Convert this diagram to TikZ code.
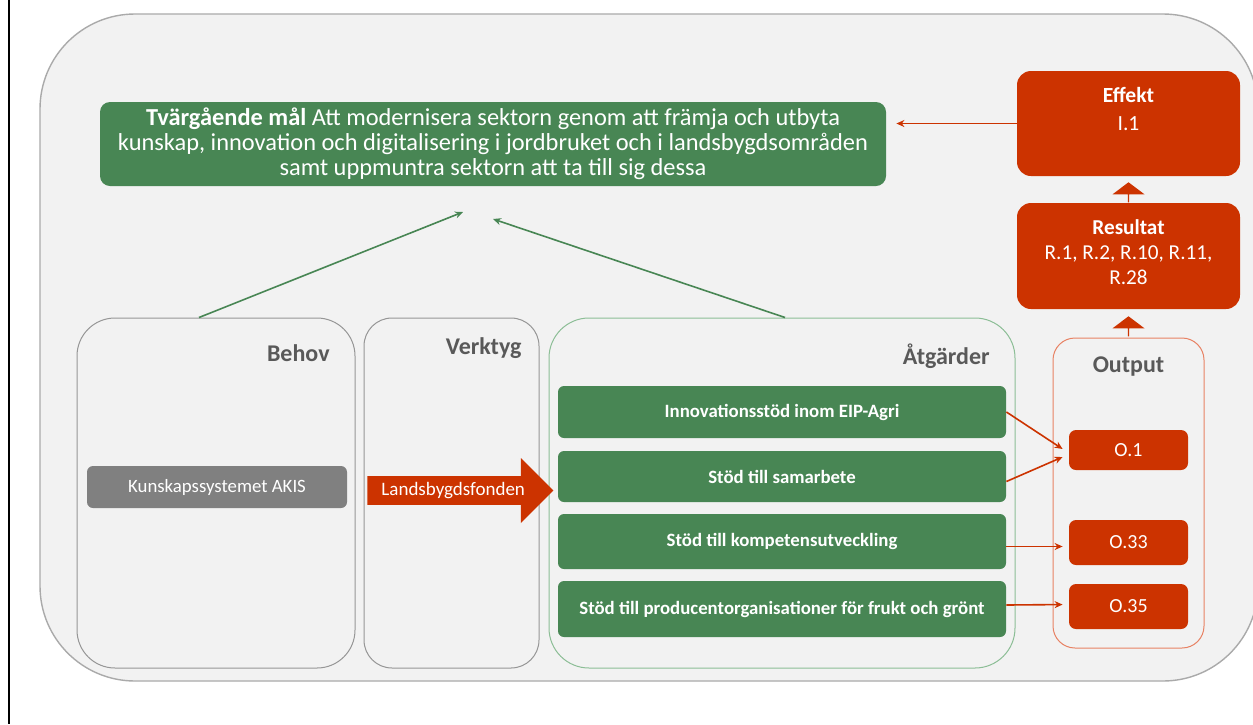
\documentclass[tikz,border=0pt]{standalone}
\usepackage{fontspec}
\setmainfont{Carlito}
\usetikzlibrary{shapes.arrows,arrows.meta,calc}
\definecolor{bggray}{RGB}{242,242,242}
\definecolor{outerline}{RGB}{170,170,170}
\definecolor{boxline}{RGB}{150,150,150}
\definecolor{goalgreen}{RGB}{72,134,84}
\definecolor{paleGreen}{RGB}{140,190,150}
\definecolor{outred}{RGB}{204,51,0}
\definecolor{paleRed}{RGB}{232,130,100}
\definecolor{lblgray}{RGB}{89,89,89}
\definecolor{akisgray}{RGB}{128,128,128}
\tikzset{
  greenbox/.style={fill=goalgreen, draw=none, text=white, rounded corners=3pt, font=\bfseries\fontsize{9.4}{11}\selectfont, inner sep=0pt},
  redbox/.style={fill=outred, draw=none, text=white, rounded corners=7pt, inner sep=0pt},
  obox/.style={fill=outred, draw=none, text=white, rounded corners=3.5pt, inner sep=0pt, minimum width=59.5pt, font=\fontsize{10}{11}\selectfont},
  container/.style={draw=boxline, line width=0.5pt, inner sep=0pt, minimum height=175pt},
  lbl/.style={text=lblgray, font=\bfseries\fontsize{12}{14}\selectfont, inner sep=0pt},
  greenline/.style={draw=goalgreen, line width=0.8pt, -{Stealth[length=4pt,width=3.5pt]}},
  redline/.style={draw=outred, line width=0.8pt, -{Stealth[length=4pt,width=3.5pt]}},
  uparrow/.style={single arrow, fill=outred, draw=none, shape border rotate=90, inner sep=0pt, minimum height=10pt, minimum width=16pt, single arrow head extend=5pt, single arrow tip angle=106},
}
\begin{document}
\begin{tikzpicture}[x=0.5pt,y=-0.5pt]
\useasboundingbox (0,0) rectangle (1253,724);
\fill[white] (0,0) rectangle (1253,724);
\draw[black, line width=0.8pt] (9,0) -- (9,724);
% outer panel
\node[draw=outerline, fill=bggray, line width=0.7pt, rounded corners=47.5pt, minimum width=609pt, minimum height=333.5pt, inner sep=0pt] (outer) at (649,347.5) {};
% goal
\node[fill=goalgreen, text=white, rounded corners=5pt, minimum width=393pt, minimum height=42pt, inner sep=0pt, align=center, font=\fontsize{12.2}{12.5}\selectfont] (goal) at (493,144)
  {\textbf{Tvärgående mål} Att modernisera sektorn genom att främja och utbyta\\kunskap, innovation och digitalisering i jordbruket och i landsbygdsområden\\samt uppmuntra sektorn att ta till sig dessa};
% effekt / resultat
\node[redbox, minimum width=111.5pt, minimum height=52.5pt] (effekt) at (1128.5,123.5) {};
\node[text=white, anchor=north, align=center, inner sep=0pt, font=\fontsize{10.8}{14}\selectfont] (efftxt) at ($(effekt.north)+(0,16)$) {\textbf{Effekt}\\I.1};
\node[redbox, minimum width=111.5pt, minimum height=53pt] (resultat) at (1128.5,256) {};
\node[text=white, anchor=north, align=center, inner sep=0pt, font=\fontsize{10.6}{12.5}\selectfont] (restxt) at ($(resultat.north)+(0,17)$) {\textbf{Resultat}\\R.1, R.2, R.10, R.11,\\R.28};
% containers
\node[container, minimum width=139pt, rounded corners=19pt] (behov) at (216,493) {};
\node[container, minimum width=87.5pt, rounded corners=14pt] (verktyg) at (451.5,493) {};
\node[container, draw=paleGreen, minimum width=233pt, rounded corners=20pt] (atgarder) at (782,493) {};
\node[container, draw=paleRed, minimum width=75.5pt, minimum height=155pt, rounded corners=11pt] (output) at (1128.5,493) {};
\node[lbl, anchor=east] (behovlbl) at (330,353) {Behov};
\node[lbl, anchor=east] (verktyglbl) at (522,348) {Verktyg};
\node[lbl, anchor=east] (atglbl) at (990,356) {Åtgärder};
\node[lbl] (outlbl) at (1128.5,367) {Output};
% up arrows
\node[uparrow] (up1) at (1128.5,192.5) {};
\node[uparrow] (up2) at (1128.5,326.5) {};
% behov / verktyg content
\node[fill=akisgray, text=white, rounded corners=3pt, minimum width=130pt, minimum height=21pt, inner sep=0pt, font=\fontsize{9.4}{10}\selectfont] (akis) at (217,487) {Kunskapssystemet AKIS};
\node[single arrow, fill=outred, text=white, draw=none, anchor=tail, minimum height=93pt, minimum width=32.5pt, single arrow head extend=8pt, inner sep=2pt, font=\fontsize{9.5}{10}\selectfont] (fond) at (367,490.5) {Landsbygdsfonden\hspace{3pt}};
% green measure boxes
\node[greenbox, minimum width=224pt, minimum height=26pt] (inno) at (782,412) {Innovationsstöd inom EIP-Agri};
\node[greenbox, minimum width=224pt, minimum height=25.5pt] (sam) at (782,476.5) {Stöd till samarbete};
\node[greenbox, minimum width=224pt, minimum height=27.5pt] (komp) at (782,541.5) {Stöd till kompetensutveckling};
\node[greenbox, minimum width=224pt, minimum height=28pt] (prod) at (782,609) {Stöd till producentorganisationer för frukt och grönt};
% output boxes
\node[obox, minimum height=20pt] (o1) at (1128.5,450) {O.1};
\node[obox, minimum height=22.5pt] (o33) at (1128.5,542.5) {O.33};
\node[obox, minimum height=22.5pt] (o35) at (1128.5,606.5) {O.35};
% connectors
\coordinate (g1) at (463,212);
\coordinate (g2) at (493,219);
\draw[greenline] ($(behov.north)+(-17,0)$) -- (g1);
\draw[greenline] ($(atgarder.north)+(3,0)$) -- (g2);
\draw[redline, shorten >=5pt] (effekt.west) -- (goal.east |- effekt.west);
\draw[redline] (inno.east) -- ($(o1.west)+(-6,-1)$);
\draw[redline] ($(sam.east)+(0,5)$) -- ($(o1.west)+(-6,7)$);
\draw[redline, shorten >=3pt] ($(komp.east)+(0,5)$) -- ($(o33.west)+(0,4)$);
\draw[redline, shorten >=3pt] ($(prod.east)+(0,-4)$) -- ($(o35.west)+(0,-2)$);
\end{tikzpicture}
\end{document}
